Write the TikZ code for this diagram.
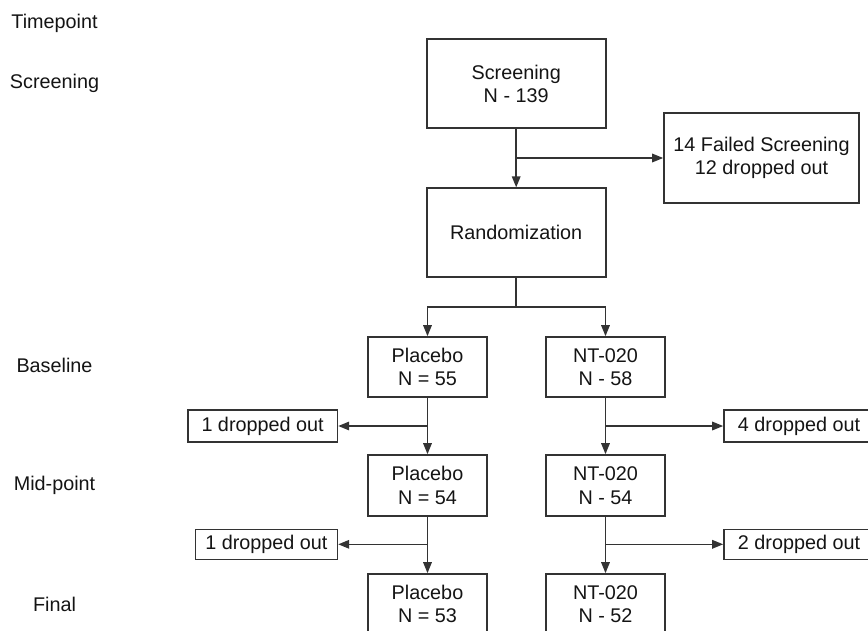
\documentclass[tikz,border=0pt]{standalone}
\usepackage{fontspec}
\setmainfont{Liberation Sans}
\usetikzlibrary{arrows.meta}
\definecolor{linegray}{HTML}{333333}
\definecolor{textgray}{HTML}{141414}
\begin{document}
\begin{tikzpicture}[x=1pt,y=-1pt,
  box/.style={draw=linegray,line width=1.6pt,inner sep=0pt,align=center,text=textgray,
    font=\fontsize{19.8}{23.5}\selectfont},
  lbl/.style={inner sep=0pt,text=textgray,font=\fontsize{19.8}{23.5}\selectfont},
  arr/.style={draw=linegray,line width=1.6pt,-{Triangle[length=11pt,width=8.5pt]}},
  ln/.style={draw=linegray,line width=1.6pt}]
\useasboundingbox (0,0) rectangle (868,630);
\clip (0,0) rectangle (868,630);
% timepoint labels
\node[lbl] (tp) at (54.5,23) {Timepoint};
\node[lbl] (tscr) at (54.5,83) {Screening};
\node[lbl] (tbase) at (54.5,365) {Baseline};
\node[lbl] (tmid) at (54.5,485) {Mid-point};
\node[lbl] (tfin) at (54.5,604) {Final};
% boxes
\node[box,minimum width=179pt,minimum height=89pt] (scr) at (516.2,83.7) {Screening\\N - 139};
\node[box,minimum width=195pt,minimum height=89.5pt] (fail) at (761.5,158) {14 Failed Screening\\12 dropped out};
\node[box,minimum width=179pt,minimum height=89pt] (rand) at (516.2,232.7) {Randomization};
\node[box,minimum width=119pt,minimum height=60pt] (pl1) at (427.5,367) {Placebo\\N = 55};
\node[box,minimum width=119pt,minimum height=60pt] (nt1) at (605.5,367) {NT-020\\N - 58};
\node[box,minimum width=119pt,minimum height=61pt] (pl2) at (427.5,485.5) {Placebo\\N = 54};
\node[box,minimum width=119pt,minimum height=61pt] (nt2) at (605.5,485.5) {NT-020\\N - 54};
\node[box,minimum width=119pt,minimum height=60pt] (pl3) at (427.5,604) {Placebo\\N = 53};
\node[box,minimum width=119pt,minimum height=60pt] (nt3) at (605.5,604) {NT-020\\N - 52};
\node[box,minimum width=149.6pt,minimum height=31.7pt] (d1) at (262.6,426) {1 dropped out};
\node[box,minimum width=150pt,minimum height=31.7pt] (d4) at (799,426) {4 dropped out};
\node[box,minimum width=142pt,minimum height=30pt] (d1b) at (266.4,544.3) {1 dropped out};
\node[box,minimum width=150pt,minimum height=30pt] (d2) at (799,544.3) {2 dropped out};
% connectors
\draw[arr] (scr.south) -- (rand.north);
\draw[arr] (scr.south |- fail.west) -- (fail.west);
\draw[ln] (rand.south) -- ++(0,29) coordinate (sp);
\draw[arr] (sp) -| (pl1.north);
\draw[arr] (sp) -| (nt1.north);
\draw[arr] (pl1.south) -- (pl2.north);
\draw[arr] (pl1.south |- d1.east) -- (d1.east);
\draw[arr] (nt1.south) -- (nt2.north);
\draw[arr] (nt1.south |- d4.west) -- (d4.west);
\draw[arr] (pl2.south) -- (pl3.north);
\draw[arr] (pl2.south |- d1b.east) -- (d1b.east);
\draw[arr] (nt2.south) -- (nt3.north);
\draw[arr] (nt2.south |- d2.west) -- (d2.west);
\end{tikzpicture}
\end{document}
